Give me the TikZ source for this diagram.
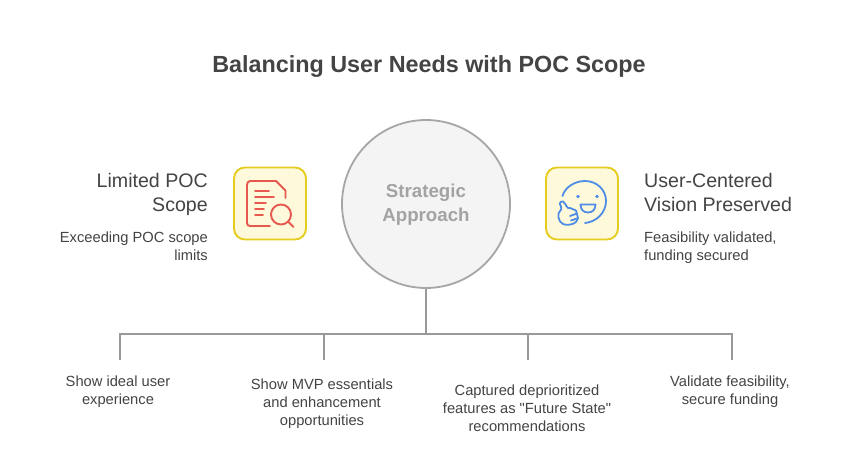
\documentclass[tikz,border=0pt]{standalone}
\usepackage{fontspec}
\setmainfont{Liberation Sans}
\newfontfamily\rawq{Liberation Sans}
\definecolor{txt}{HTML}{444444}
\definecolor{linec}{HTML}{999999}
\definecolor{ringc}{HTML}{A6A6A6}
\definecolor{circfill}{HTML}{F4F4F4}
\definecolor{circtxt}{HTML}{A3A3A3}
\definecolor{boxfill}{HTML}{FEF9DB}
\definecolor{boxline}{HTML}{E5CD1F}
\definecolor{redc}{HTML}{E5594F}
\definecolor{bluec}{HTML}{4E8CE6}
\tikzset{
  x=1pt,y=-1pt,
  titletext/.style={font=\fontsize{23.35}{28}\selectfont\bfseries,text=txt,inner sep=0pt},
  headtext/.style={font=\fontsize{19.6}{24.5}\selectfont,text=txt,inner sep=0pt},
  bodytext/.style={font=\fontsize{14.7}{18}\selectfont,text=txt,inner sep=0pt},
  hub/.style={circle,draw=ringc,fill=circfill,line width=1.8pt,minimum size=168pt,inner sep=0pt,
     font=\fontsize{18.7}{24}\selectfont\bfseries,text=circtxt,align=center},
  iconbox/.style={draw=boxline,fill=boxfill,line width=1.9pt,rounded corners=11pt,minimum size=72pt,inner sep=0pt},
  conn/.style={draw=linec,line width=1.6pt},
  redicon/.style={draw=redc,line width=1.9pt,line cap=round,line join=round},
  blueicon/.style={draw=bluec,line width=1.8pt,line cap=round,line join=round},
}
\begin{document}
\begin{tikzpicture}
\useasboundingbox (0,0) rectangle (858,454);
\fill[white] (0,0) rectangle (858,454);
\node[titletext] (title) at (429,67) {Balancing User Needs with POC Scope};

% connectors
\coordinate (bus) at (426,334);
\coordinate (b1) at (120,334);
\coordinate (b2) at (324,334);
\coordinate (b3) at (528,334);
\coordinate (b4) at (732,334);
\coordinate (e1) at (120,360);
\coordinate (e2) at (324,360);
\coordinate (e3) at (528,360);
\coordinate (e4) at (732,360);
\node[hub] (hub) at (426,204) {\vphantom{Sp}\raisebox{-1.5pt}{Strategic}\\\raisebox{-1.5pt}{Approach}};
\draw[conn] (hub.south) -- (bus);
\draw[conn,line cap=rect] (b1) -- (b4);
\draw[conn] (b1) -- (e1);
\draw[conn] (b2) -- (e2);
\draw[conn] (b3) -- (e3);
\draw[conn] (b4) -- (e4);

% left
\node[iconbox] (lbox) at (270,203.5) {};
\draw[redicon] (270,226) -- (250,226) .. controls (248,226) and (247,225) .. (247,223)
  -- (247,185) .. controls (247,183) and (248,181) .. (250,181) -- (276,181) -- (285.5,190.5) -- (285.5,198);
\draw[redicon] (255,190.7) -- (269,190.7);
\draw[redicon] (255,196.7) -- (274,196.7);
\draw[redicon] (255,202.7) -- (266,202.7);
\draw[redicon] (255,208.7) -- (264,208.7);
\draw[redicon] (255,215) -- (263,215);
\draw[redicon] (281,214.5) circle[radius=10];
\draw[redicon] (288.5,222) -- (293.5,227);

\node[headtext,align=right,anchor=north east] (lhead) at (208,172.7) {Limited POC\\Scope};
\node[bodytext,align=right,anchor=north east] (lbody) at (208,232) {Exceeding POC scope\\limits};

% right
\node[iconbox] (rbox) at (582,203.5) {};
\draw[blueicon] (562.5,196) .. controls (565,187) and (575,181) .. (585,181)
  .. controls (597,181) and (606,190) .. (606,201)
  .. controls (606,213) and (596,222) .. (585,223);
\fill[bluec] (578,196.5) circle[radius=1.8];
\fill[bluec] (597,196.5) circle[radius=1.8];
\draw[blueicon] (580.5,204.5) -- (595.5,204.5) .. controls (595.5,209) and (593,212.5) .. (588,212.5)
  .. controls (583,212.5) and (580.5,209) .. (580.5,204.5) -- cycle;
\draw[blueicon] (568,208) .. controls (565,205) and (565,202) .. (563,201.5)
  .. controls (560,201) and (559,204) .. (561,206.5) .. controls (562,209) and (561,210) .. (560,211)
  .. controls (557,213) and (558,222) .. (563,224) .. controls (566,225.5) and (573,225) .. (576,222)
  -- (578,218) -- (576,210.5) -- (570,208) -- cycle;
\draw[blueicon] (570,216) -- (577,213.5);
\draw[blueicon] (571,220.5) -- (577,218.5);

\node[headtext,align=left,anchor=north west] (rhead) at (644,172.7) {User-Centered\\Vision Preserved};
\node[bodytext,align=left,anchor=north west] (rbody) at (644,232) {Feasibility validated,\\funding secured};

% bottom
\node[bodytext,align=center,anchor=north] (t1) at (118,376) {Show ideal user\\experience};
\node[bodytext,align=center,anchor=north] (t2) at (322,378.5) {Show MVP essentials\\and enhancement\\opportunities};
\node[bodytext,align=center,anchor=north] (t3) at (527,384.5) {Captured deprioritized\\features as {\rawq"}Future State{\rawq"}\\recommendations};
\node[bodytext,align=center,anchor=north] (t4) at (730,375.5) {Validate feasibility,\\secure funding};
\end{tikzpicture}
\end{document}
